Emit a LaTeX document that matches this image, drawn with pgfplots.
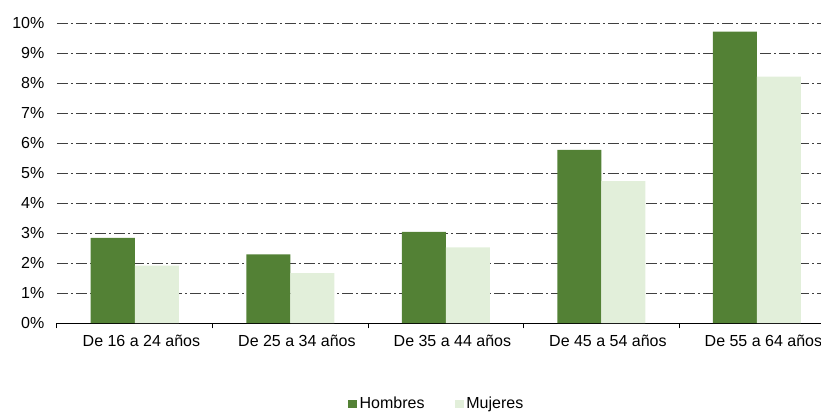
\documentclass[border=0pt]{standalone}
\usepackage{fontspec}
\setmainfont{Liberation Sans}
\usepackage{pgfplots}
\pgfplotsset{compat=1.18}
\definecolor{hombres}{HTML}{538135}
\definecolor{mujeres}{HTML}{E2EFDA}
\definecolor{gridgray}{HTML}{404040}

\begin{document}
\begin{tikzpicture}
\begin{axis}[
    name=ax,
    at={(0,0)}, anchor=south west,
    scale only axis,
    width=583.125pt, height=225pt,
    xmin=-0.5, xmax=4.5, ymin=0, ymax=10,
    ybar=0pt, bar width=33pt,
    axis lines*=left,
    y axis line style={draw=none},
    x axis line style={black, line width=0.75pt, -},
    xtick={0,1,2,3,4},
    xticklabels={De 16 a 24 años, De 25 a 34 años, De 35 a 44 años, De 45 a 54 años, De 55 a 64 años},
    major x tick style={draw=none},
    minor xtick={-0.5,0.5,1.5,2.5,3.5,4.5},
    minor x tick style={black, line width=0.75pt},
    minor tick length=4pt,
    major tick length=0pt,
    tick align=outside,
    ytick={0,1,...,10},
    major y tick style={draw=none},
    yticklabel={\pgfmathprintnumber{\tick}\%},
    /pgf/number format/assume math mode=true,
    ticklabel style={font=\fontsize{12}{14}\selectfont},
    xticklabel style={yshift=-5.5pt, xshift=5pt},
    yticklabel style={xshift=-6pt},
    ymajorgrids,
    grid style={gridgray, line width=0.75pt, dash pattern=on 8.25pt off 2.25pt on 1.5pt off 2.25pt},
    legend style={at={(0.489,-0.27)}, anchor=center, draw=none,
        font=\fontsize{12}{14}\selectfont,
        /tikz/every even column/.append style={column sep=21pt}},
    legend columns=2,
    legend image code/.code={\draw[#1,draw=none] (-1.5pt,-3.2pt) rectangle (4.9pt,3.2pt);},
]
\addplot[fill=hombres, draw=none] coordinates {(0,2.84) (1,2.29) (2,3.04) (3,5.77) (4,9.71)};
\addplot[fill=mujeres, draw=none] coordinates {(0,1.91) (1,1.66) (2,2.52) (3,4.73) (4,8.21)};
\legend{Hombres, Mujeres}
\end{axis}
\pgfresetboundingbox
\path (-42.75pt,-66.75pt) rectangle (573pt,242.25pt);
\end{tikzpicture}
\end{document}
